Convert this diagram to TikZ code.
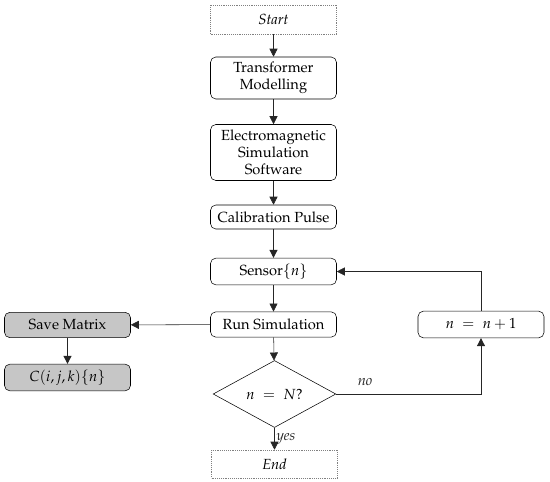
\documentclass[tikz,border=0pt]{standalone}
\usepackage[T1]{fontenc}
\usepackage{mathpazo}
\usepackage{tikz}
\usetikzlibrary{arrows.meta,positioning,shapes.geometric}

\tikzset{
    stepbox/.style={draw, rounded corners=4pt, minimum width=94.5pt, minimum height=19pt, align=center, inner sep=2pt},
    termbox/.style={draw=gray, densely dotted, minimum width=94.5pt, minimum height=22pt},
    savebox/.style={stepbox, fill=gray!45},
    decbox/.style={draw, diamond, minimum width=92pt, minimum height=45pt, inner sep=0pt},
    flow/.style={-{Triangle[length=6pt,width=6pt]}, black!85}
}

\begin{document}
\begin{tikzpicture}[x=0.75pt, y=-0.75pt, font=\fontsize{11}{13}\selectfont]
    \useasboundingbox (0,0) rectangle (550,482);

    % Main column
    \node[termbox] (start) at (273.5,19.5) {\textit{Start}};
    \node[stepbox, minimum height=31.5pt] (model) at (273.5,78) {Transformer\\Modelling};
    \node[stepbox, minimum height=42pt] (soft) at (273.5,152.5) {Electromagnetic\\Simulation\\Software};
    \node[stepbox, minimum height=18pt] (pulse) at (273.5,217) {Calibration Pulse};
    \node[stepbox, minimum height=20pt] (sensor) at (273.5,271.5) {Sensor$\{n\}$};
    \node[stepbox] (run) at (273.5,324.5) {Run Simulation};
    \node[decbox] (check) at (274.5,394) {$n\;=\;N?$};
    \node[termbox, minimum height=21pt] (end) at (274.5,464) {\textit{End}};

    % Side boxes
    \node[savebox] (save) at (67.5,325) {Save Matrix};
    \node[savebox, minimum height=20pt] (cmat) at (67.5,377.5) {$C(i,j,k)\{n\}$};
    \node[stepbox, minimum height=20pt] (incr) at (481,324.5) {$n \;=\; n+1$};

    % Arrows
    \draw[flow] (start) -- (model);
    \draw[flow] (model) -- (soft);
    \draw[flow] (soft) -- (pulse);
    \draw[flow] (pulse) -- (sensor);
    \draw[flow] (sensor) -- (run);
    \draw[flow] (run) -- (check);
    \draw[flow] (run) -- (save);
    \draw[flow] (save) -- (cmat);
    \draw[flow] (check) -- node[right, xshift=-2pt] {\textit{yes}} (end);
    \draw[flow] (check.east) -| node[pos=0.1, above, yshift=3pt] {\textit{no}} (incr.south);
    \draw[flow] (incr.north) |- (sensor.east);
\end{tikzpicture}
\end{document}
